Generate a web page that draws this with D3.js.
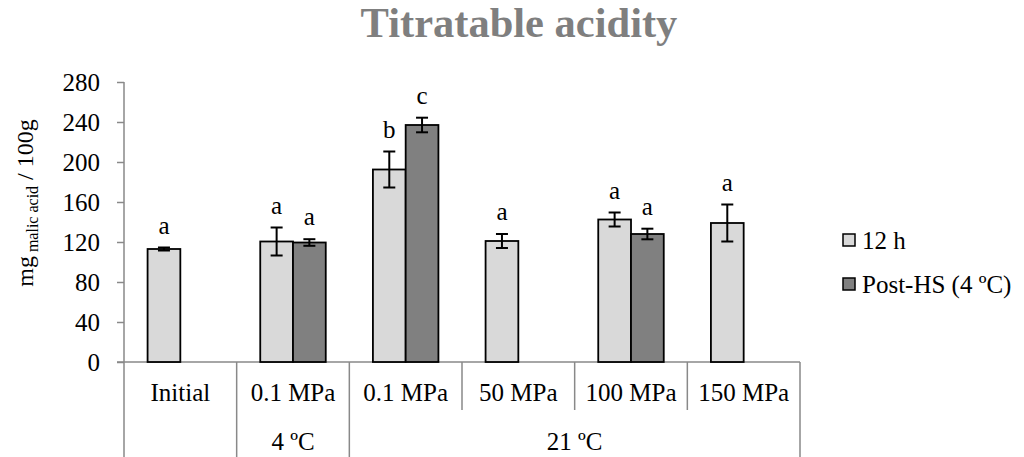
<!DOCTYPE html>
<html>
<head>
<meta charset="utf-8">
<script src="https://cdn.jsdelivr.net/npm/d3@7"></script>
<style>
  html, body { margin: 0; padding: 0; background: #fff; }
  svg { display: block; }
  text { font-family: "Liberation Serif", "Times New Roman", serif; }
</style>
</head>
<body>
<svg id="chart" width="1024" height="457"></svg>
<script>
// ---- data ----
const categories = ["Initial", "0.1 MPa", "0.1 MPa", "50 MPa", "100 MPa", "150 MPa"];
const groupLabels = ["", "4 ºC", "21 ºC"];
const groupSpans = [1, 1, 4];
const seriesNames = ["12 h", "Post-HS (4 ºC)"];
const values12h = [113, 120.5, 192.5, 121, 142.5, 139];
const errors12h = [1.5, 14, 18, 7, 7, 18.5];
const valuesPost = [null, 119.5, 237, null, 128, null];
const errorsPost = [null, 3.3, 7.3, null, 5.3, null];
const letters12h = ["a", "a", "b", "a", "a", "a"];
const lettersPost = [null, "a", "c", null, "a", null];
const yTicks = [0, 40, 80, 120, 160, 200, 240, 280];

// ---- layout ----
const svg = d3.select("#chart");
const W = 1024, H = 457;
const mLeft = 124, mRight = 800, mTop = 82, mBottom = 362;
const axisColor = "#898989";
const colors = ["#d9d9d9", "#808080"];

const y = d3.scaleLinear().domain([0, 280]).range([mBottom, mTop]);
const x0 = d3.scaleBand().domain(d3.range(categories.length)).range([mLeft, mRight]).padding(0);
const x1 = d3.scaleBand().domain([0, 1]).range([0, x0.bandwidth()]).paddingInner(0).paddingOuter(0.72);

// title
svg.append("text")
  .attr("x", 519).attr("y", 37)
  .attr("text-anchor", "middle")
  .attr("font-size", 42.5).attr("font-weight", "bold")
  .attr("fill", "#7f7f7f")
  .text("Titratable acidity");

// y axis
const yAxis = d3.axisLeft(y).tickValues(yTicks).tickSize(7).tickPadding(17).tickSizeOuter(0);
const gy = svg.append("g").attr("transform", `translate(${mLeft},0)`).call(yAxis);
gy.select(".domain").remove();
gy.selectAll("line").attr("stroke", axisColor).attr("stroke-width", 1.5);
gy.selectAll("text").attr("font-size", 25).attr("fill", "#000")
  .attr("font-family", "Liberation Serif, Times New Roman, serif").attr("dy", "0.33em");
svg.append("line").attr("x1", mLeft).attr("x2", mLeft).attr("y1", mTop).attr("y2", H)
  .attr("stroke", axisColor).attr("stroke-width", 1.5);

// y axis title
const yt = svg.append("text")
  .attr("transform", "translate(33,203) rotate(-90)")
  .attr("text-anchor", "middle")
  .attr("font-size", 24).attr("fill", "#000");
yt.append("tspan").text("mg");
yt.append("tspan").attr("font-size", 16).attr("dy", 5).text(" malic acid");
yt.append("tspan").attr("dy", -5).text(" / 100g");

// x axis line
svg.append("line").attr("x1", mLeft - 7).attr("x2", mRight).attr("y1", mBottom).attr("y2", mBottom)
  .attr("stroke", axisColor).attr("stroke-width", 1.5);

// category dividers (row 1) and group dividers (full)
const groupBounds = [0];
groupSpans.forEach((s, i) => groupBounds.push(groupBounds[i] + s));
d3.range(1, categories.length + 1).forEach(i => {
  const xx = i < categories.length ? x0(i) : mRight;
  const full = groupBounds.includes(i) || i === categories.length;
  svg.append("line").attr("x1", xx).attr("x2", xx).attr("y1", mBottom).attr("y2", full ? H : 410)
    .attr("stroke", axisColor).attr("stroke-width", 1.5);
});

// category labels
svg.selectAll(".catlab").data(categories).join("text")
  .attr("class", "catlab")
  .attr("x", (d, i) => x0(i) + x0.bandwidth() / 2)
  .attr("y", 401)
  .attr("text-anchor", "middle").attr("font-size", 25).attr("fill", "#000")
  .text(d => d);

// group labels
svg.selectAll(".grplab").data(groupLabels).join("text")
  .attr("class", "grplab")
  .attr("x", (d, i) => {
    const a = x0(groupBounds[i]);
    const b = groupBounds[i + 1] < categories.length ? x0(groupBounds[i + 1]) : mRight;
    return (a + b) / 2;
  })
  .attr("y", 450)
  .attr("text-anchor", "middle").attr("font-size", 25).attr("fill", "#000")
  .text(d => d);

// bars
const seriesVals = [values12h, valuesPost];
const seriesErrs = [errors12h, errorsPost];
const seriesLetters = [letters12h, lettersPost];
seriesVals.forEach((vals, s) => {
  const recs = vals.map((v, i) => ({ i, v, e: seriesErrs[s][i], l: seriesLetters[s][i] })).filter(d => d.v != null);
  const g = svg.append("g");
  g.selectAll("rect").data(recs).join("rect")
    .attr("x", d => x0(d.i) + x1(s))
    .attr("y", d => y(d.v))
    .attr("width", x1.bandwidth())
    .attr("height", d => y(0) - y(d.v))
    .attr("fill", colors[s]).attr("stroke", "#000").attr("stroke-width", 1.8);
  const cx = d => x0(d.i) + x1(s) + x1.bandwidth() / 2;
  g.selectAll(".eb").data(recs).join("line").attr("class", "eb")
    .attr("x1", cx).attr("x2", cx)
    .attr("y1", d => y(d.v - d.e)).attr("y2", d => y(d.v + d.e))
    .attr("stroke", "#000").attr("stroke-width", 2);
  [1, -1].forEach(sign => {
    g.selectAll(".cap" + (sign > 0 ? "u" : "d")).data(recs).join("line")
      .attr("class", "cap" + (sign > 0 ? "u" : "d"))
      .attr("x1", d => cx(d) - 6).attr("x2", d => cx(d) + 6)
      .attr("y1", d => y(d.v + sign * d.e)).attr("y2", d => y(d.v + sign * d.e))
      .attr("stroke", "#000").attr("stroke-width", 2);
  });
  g.selectAll(".lt").data(recs).join("text").attr("class", "lt")
    .attr("x", cx)
    .attr("y", d => y(d.v + d.e) - 14)
    .attr("text-anchor", "middle").attr("font-size", 25).attr("fill", "#000")
    .text(d => d.l);
});

// legend
const leg = svg.append("g");
seriesNames.forEach((name, s) => {
  const yy = 240 + s * 44;
  leg.append("rect").attr("x", 843).attr("y", yy - 6).attr("width", 12).attr("height", 12)
    .attr("fill", colors[s]).attr("stroke", "#000").attr("stroke-width", 1.5);
  leg.append("text").attr("x", 862).attr("y", yy + 8.5)
    .attr("font-size", 25).attr("fill", "#000").text(name);
});
</script>
</body>
</html>
